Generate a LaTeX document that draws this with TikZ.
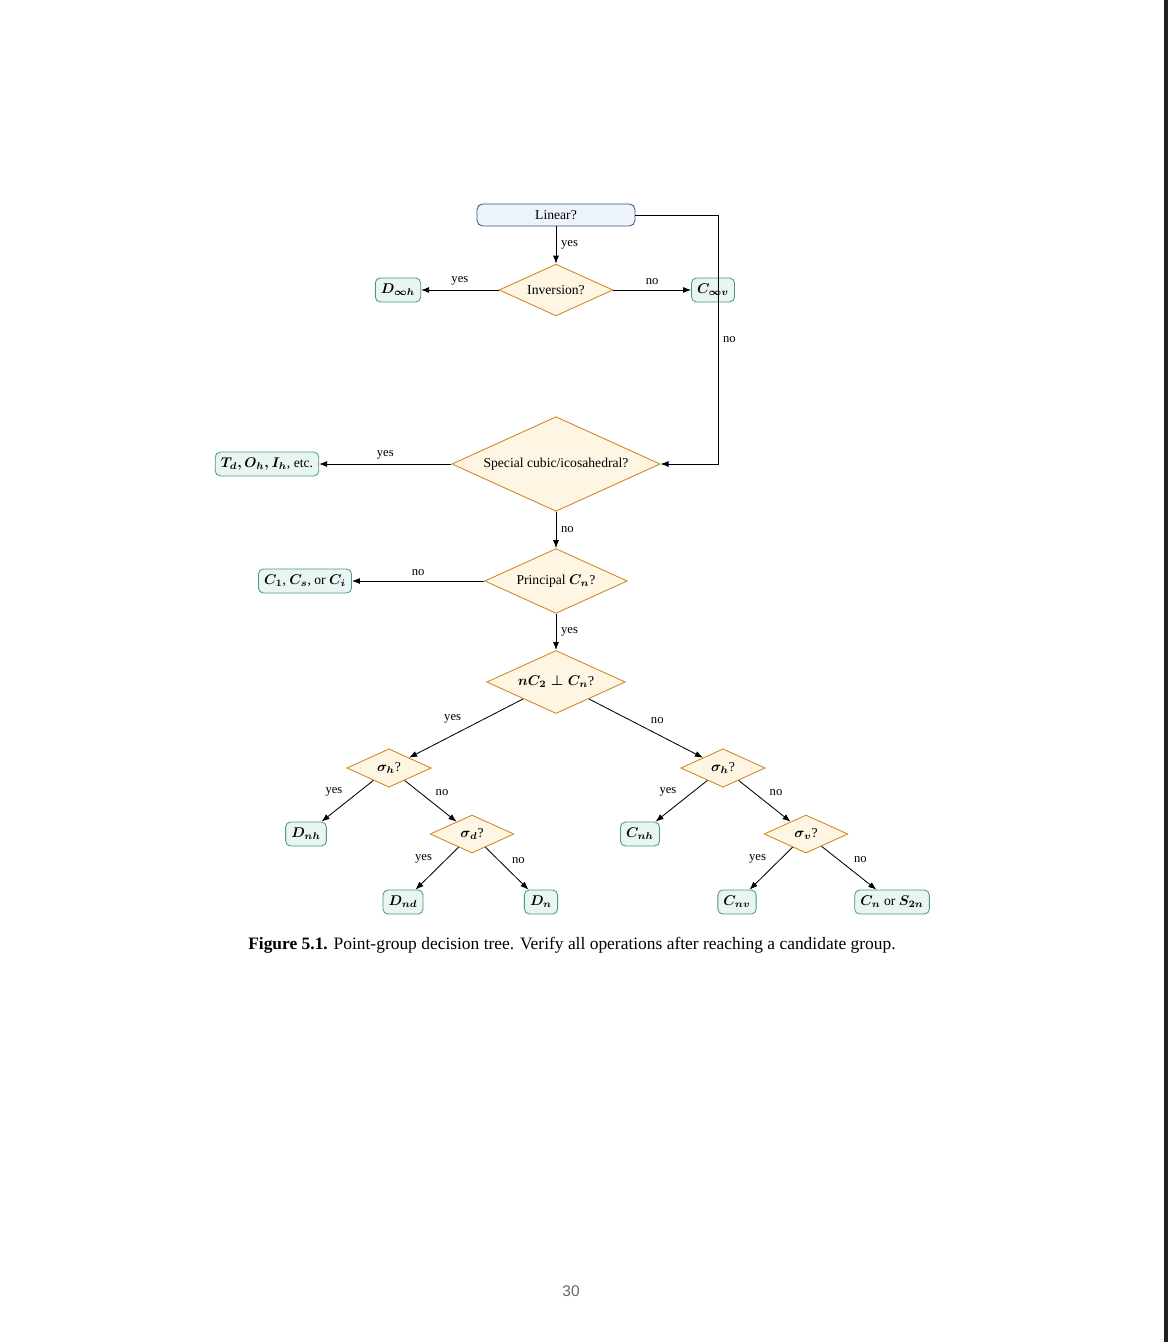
\documentclass[tikz,border=0pt]{standalone}
\usepackage{fontspec}
\setmainfont{Liberation Serif}
\newfontfamily\pagenofont{Liberation Sans}
\usetikzlibrary{shapes.geometric,arrows.meta}

\definecolor{startfill}{HTML}{EDF3FB}
\definecolor{startdraw}{HTML}{3E5677}
\definecolor{askfill}{HTML}{FEF5E3}
\definecolor{askdraw}{HTML}{CF861E}
\definecolor{groupfill}{HTML}{E9F5F2}
\definecolor{groupdraw}{HTML}{4C978A}

\begin{document}
\begin{tikzpicture}[x=0.25mm, y=-0.25mm, font=\fontsize{9.7}{11}\selectfont\boldmath]
    \tikzstyle{start}=[rectangle, rounded corners=4pt, minimum width=39.5mm, minimum height=5.5mm, draw=startdraw, fill=startfill, line width=0.6pt]
    \tikzstyle{ask}=[diamond, aspect=2.2, inner sep=4pt, draw=askdraw, fill=askfill, line width=0.6pt]
    \tikzstyle{group}=[rectangle, rounded corners=3.5pt, inner sep=4pt, minimum height=6mm, draw=groupdraw, fill=groupfill, line width=0.6pt]
    \tikzstyle{arr}=[-{Latex[length=2mm, width=1.5mm]}, line width=0.6pt]
    \tikzstyle{lab}=[font=\fontsize{9}{10}\selectfont]
    \tikzstyle{edge from parent}=[draw, arr]
    \tikzstyle{level 1}=[level distance=21.5mm, sibling distance=83.5mm]
    \tikzstyle{level 2}=[level distance=16.5mm, sibling distance=41.5mm]
    \tikzstyle{level 3}=[level distance=17mm, sibling distance=34.5mm]

    % page
    \fill[white] (0,0) rectangle (1168,1342);
    \fill[black!87] (1164,0) rectangle (1168,1342);

    % top of the chart
    \node[start] (linear) at (556,215) {Linear?};
    \node[ask] (inversion) at (556,290) {Inversion?};
    \node[group] (dinfh) at (398,290) {$D_{\infty h}$};
    \node[group] (cinfv) at (713,290) {$C_{\infty v}$};
    \node[ask] (special) at (556,464) {Special cubic/icosahedral?};
    \node[group] (cubic) at (267,464) {$T_d, O_h, I_h$, etc.};
    \node[ask] (principal) at (556,581) {Principal $C_n$?};
    \node[group] (lowsym) at (305,581) {$C_1$, $C_s$, or $C_i$};
    \coordinate (bend) at (718,215);

    \draw[arr] (linear) -- (inversion) node[lab, midway, right] {yes};
    \draw[arr] (inversion) -- (dinfh) node[lab, midway, above] {yes};
    \draw[arr] (inversion) -- (cinfv) node[lab, midway, above] {no};
    \draw[arr] (linear.east) -- (bend) |- (special.east) node[lab, pos=0.25, right] {no};
    \draw[arr] (special) -- (cubic) node[lab, midway, above] {yes};
    \draw[arr] (special) -- (principal) node[lab, midway, right] {no};
    \draw[arr] (principal) -- (lowsym) node[lab, midway, above] {no};

    % the tree below
    \node[ask] (perp) at (556,682) {$nC_2 \perp C_n$?}
    child {
      node[ask] (sighl) {$\sigma_h$?}
      child {node[group] (dnh) {$D_{nh}$} edge from parent node[lab, above left] {yes}}
      child {
        node[ask] (sigd) {$\sigma_d$?}
        child {node[group] (dnd) {$D_{nd}$} edge from parent node[lab, above left] {yes}}
        child {node[group] (dn) {$D_n$} edge from parent node[lab, above right] {no}}
        edge from parent node[lab, above right] {no}
      }
      edge from parent node[lab, above left] {yes}
    }
    child {
      node[ask] (sighr) {$\sigma_h$?}
      child {node[group] (cnh) {$C_{nh}$} edge from parent node[lab, above left] {yes}}
      child {
        node[ask] (sigv) {$\sigma_v$?}
        child {node[group] (cnv) {$C_{nv}$} edge from parent node[lab, above left] {yes}}
        child {node[group, xshift=4.25mm] (cns) {$C_n$ or $S_{2n}$} edge from parent node[lab, above right] {no}}
        edge from parent node[lab, above right] {no}
      }
      edge from parent node[lab, above right] {no}
    };
    \draw[arr] (principal) -- (perp) node[lab, midway, right] {yes};

    % caption and page number
    \node[anchor=base west, inner sep=0pt, font=\fontsize{12.4}{14}\selectfont] (caption) at (248,949)
      {\textbf{Figure 5.1.} Point-group decision tree. Verify all operations after reaching a candidate group.};
    \node[anchor=base, inner sep=0pt, text=black!60, font=\pagenofont\fontsize{11}{13}\selectfont] (pageno) at (571,1296) {30};
\end{tikzpicture}
\end{document}
